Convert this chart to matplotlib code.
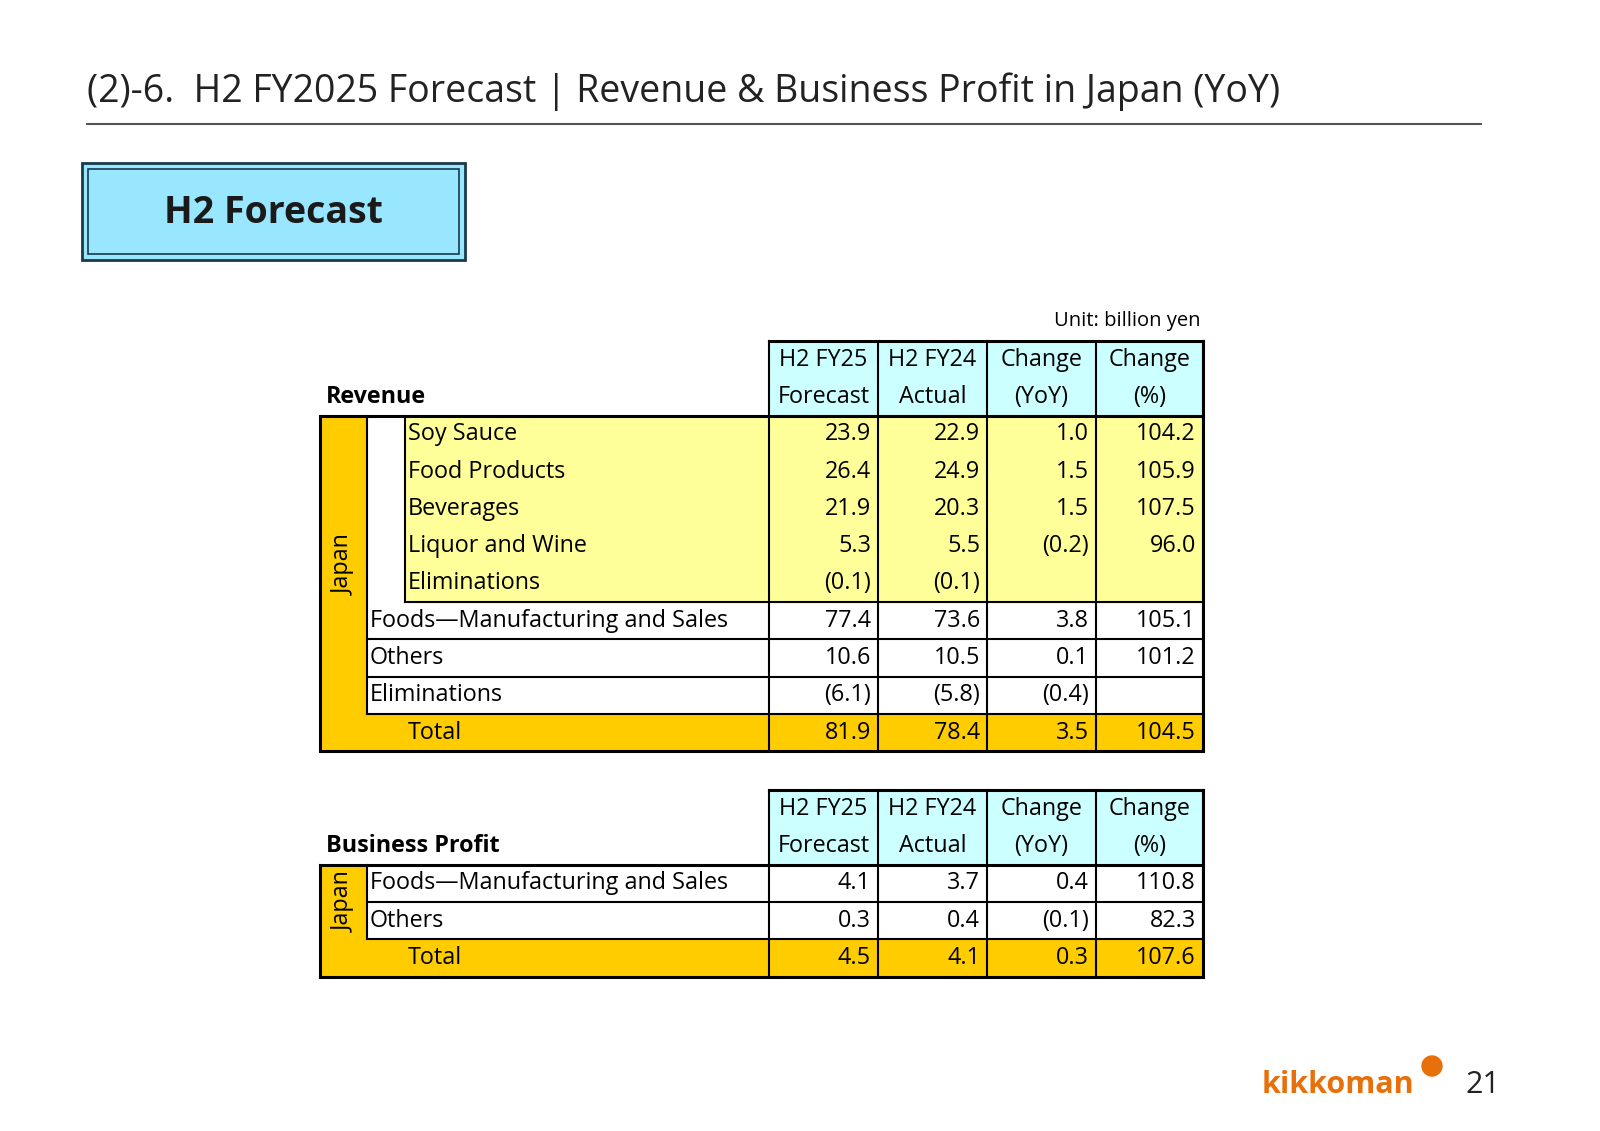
import matplotlib
matplotlib.use("Agg")
import matplotlib.pyplot as plt
from matplotlib.patches import Rectangle

FONT = "Open Sans"
rev_labels = ["Soy Sauce", "Food Products", "Beverages", "Liquor and Wine", "Eliminations",
              "Foods\u2014Manufacturing and Sales", "Others", "Eliminations", "Total"]
rev_fc = ["23.9", "26.4", "21.9", "5.3", "(0.1)", "77.4", "10.6", "(6.1)", "81.9"]
rev_ac = ["22.9", "24.9", "20.3", "5.5", "(0.1)", "73.6", "10.5", "(5.8)", "78.4"]
rev_ch = ["1.0", "1.5", "1.5", "(0.2)", "", "3.8", "0.1", "(0.4)", "3.5"]
rev_pc = ["104.2", "105.9", "107.5", "96.0", "", "105.1", "101.2", "", "104.5"]
bp_labels = ["Foods\u2014Manufacturing and Sales", "Others", "Total"]
bp_fc = ["4.1", "0.3", "4.5"]
bp_ac = ["3.7", "0.4", "4.1"]
bp_ch = ["0.4", "(0.1)", "0.3"]
bp_pc = ["110.8", "82.3", "107.6"]
head1 = ["H2 FY25", "H2 FY24", "Change", "Change"]
head2 = ["Forecast", "Actual", "(YoY)", "(%)"]

W, H = 1600, 1131
fig = plt.figure(figsize=(16, 11.31), dpi=100)
ax = fig.add_axes([0, 0, 1, 1])
ax.set_xlim(0, W); ax.set_ylim(H, 0); ax.axis("off")

FS = 16.8
YEL, ORG, CYN, HCY = "#FFFF99", "#FFCC00", "#CCFFFF", "#99E6FF"

ax.text(87, 92, "(2)-6.  H2 FY2025 Forecast | Revenue & Business Profit in Japan (YoY)",
        fontsize=27, family=FONT, va="center", color="#222222")
ax.plot([87, 1481], [124, 124], color="#555555", lw=1.5)

ax.add_patch(Rectangle((82, 163), 383, 97, fc=HCY, ec="#1a3a4a", lw=2))
ax.add_patch(Rectangle((88, 169), 371, 85, fc="none", ec="#1a3a4a", lw=1.2))
ax.text(273, 213, "H2 Forecast", fontsize=27, weight="bold", family=FONT, ha="center", va="center", color="#1a1a1a")

ax.text(1200, 321, "Unit: billion yen", fontsize=14.5, family=FONT, ha="right", va="center")

L, J, S, C0 = 320, 367, 405, 769
cols = [769, 878, 987, 1096, 1203]

def line(x0, y0, x1, y1, lw=1.5):
    ax.plot([x0, x1], [y0, y1], color="black", lw=lw, solid_capstyle="projecting")

def table(top, title, labels, fc, ac, ch, pc, nsub):
    rh = 37.3
    h0 = top
    hb = top + 2 * rh
    ax.add_patch(Rectangle((C0, h0), cols[-1] - C0, hb - h0, fc=CYN, ec="none"))
    for i in range(4):
        xc = (cols[i] + cols[i + 1]) / 2
        ax.text(xc, h0 + rh / 2, head1[i], fontsize=FS, family=FONT, ha="center", va="center")
        ax.text(xc, h0 + 1.5 * rh, head2[i], fontsize=FS, family=FONT, ha="center", va="center")
    ax.text(L + 6, h0 + 1.5 * rh, title, fontsize=FS, weight="bold", family=FONT, va="center")
    n = len(labels)
    ys = [hb + k * rh for k in range(n + 1)]
    bot = ys[-1]
    if nsub:
        ax.add_patch(Rectangle((S, ys[0]), cols[-1] - S, nsub * rh, fc=YEL, ec="none"))
    ax.add_patch(Rectangle((L, ys[0]), J - L, bot - ys[0], fc=ORG, ec="none"))
    ax.add_patch(Rectangle((L, ys[-2]), cols[-1] - L, rh, fc=ORG, ec="none"))
    for k in range(n):
        yc = ys[k] + rh / 2
        x = S + 3 if (k == n - 1 or k < nsub) else J + 3
        ax.text(x, yc, labels[k], fontsize=FS, family=FONT, va="center")
        for i, v in enumerate([fc, ac, ch, pc]):
            ax.text(cols[i + 1] - 7, yc, v[k], fontsize=FS, family=FONT, va="center", ha="right")
    ax.text((L + J) / 2, (ys[0] + ys[-2]) / 2, "Japan", fontsize=FS, family=FONT,
            rotation=90, ha="center", va="center")
    for x in cols:
        line(x, h0, x, bot, 1.5)
    line(C0, h0, cols[-1], h0, 2.2)
    line(cols[-1], h0, cols[-1], bot, 2.2)
    line(L, hb, cols[-1], hb, 2.2)
    line(L, hb, L, bot, 2.2)
    line(L, bot, cols[-1], bot, 2.2)
    line(J, hb, J, ys[-2], 1.5)
    line(J, ys[-2], cols[-1], ys[-2], 1.5)
    if nsub:
        line(S, hb, S, ys[nsub], 1.5)
        line(S, ys[nsub], cols[-1], ys[nsub], 1.5)
    for k in range(nsub + 1, n - 1):
        line(J, ys[k], cols[-1], ys[k], 1.5)

table(341, "Revenue", rev_labels, rev_fc, rev_ac, rev_ch, rev_pc, 5)
table(790, "Business Profit", bp_labels, bp_fc, bp_ac, bp_ch, bp_pc, 0)

ax.text(1262, 1085, "kikkoman", fontsize=22, weight="bold", family=FONT, color="#E8700A", va="center")
ax.add_patch(plt.Circle((1432, 1066), 10, color="#E8700A"))
ax.text(1500, 1085, "21", fontsize=22, family=FONT, ha="right", va="center", color="#222222")

fig.savefig("out.png", dpi=100)
